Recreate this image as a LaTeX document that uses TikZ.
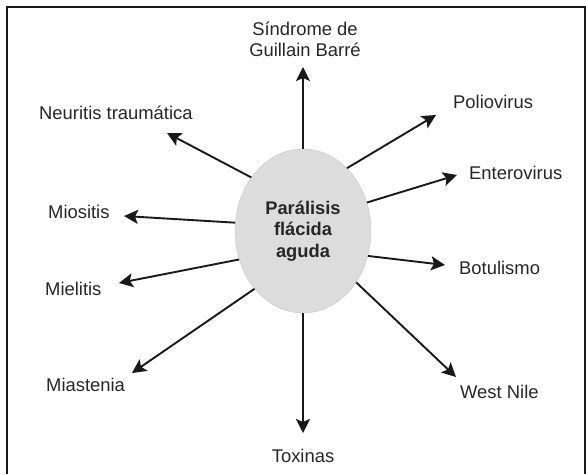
\documentclass[tikz,border=0pt]{standalone}
\usepackage{fontspec}
\setmainfont{Liberation Sans}
\usetikzlibrary{arrows.meta,shapes.geometric}
\definecolor{txtgray}{RGB}{38,38,38}
\definecolor{ovalfill}{RGB}{220,220,220}
\definecolor{ovalline}{RGB}{200,200,200}
\definecolor{arrblack}{RGB}{25,25,25}

\begin{document}
\begin{tikzpicture}[x=1pt, y=-1pt,
  oval/.style={ellipse, draw=ovalline, fill=ovalfill,
    minimum width=136pt, minimum height=164pt, inner sep=0pt,
    align=center, font=\fontsize{18.3}{21.5}\selectfont\bfseries, text=txtgray},
  lbl/.style={font=\fontsize{18.4}{21}\selectfont, text=txtgray, inner sep=0pt},
  arr/.style={-{Stealth[length=14pt, width=14pt, inset=3pt]}, line width=1.9pt, color=arrblack},
  boxline/.style={line width=1.2pt, color=arrblack}
]
  \useasboundingbox (0,0) rectangle (586,474);
  \draw[boxline] (7,474) -- (7,7) -- (585,7) -- (585,474);

  \node[oval] (pfa) at (303,231) {Parálisis\\flácida\\aguda};

  \node[lbl, align=center, anchor=base] (gbs) at (305,56) {Síndrome de\\Guillain Barré};
  \node[lbl, anchor=base west] (neu) at (39,119)  {Neuritis traumática};
  \node[lbl, anchor=base west] (mio) at (48,218)  {Miositis};
  \node[lbl, anchor=base west] (mie) at (45,295)  {Mielitis};
  \node[lbl, anchor=base west] (mia) at (46,391)  {Miastenia};
  \node[lbl, anchor=base]      (tox) at (303,462) {Toxinas};
  \node[lbl, anchor=base west] (wn)  at (460,398) {West Nile};
  \node[lbl, anchor=base west] (bot) at (459,274) {Botulismo};
  \node[lbl, anchor=base west] (ent) at (469,179) {Enterovirus};
  \node[lbl, anchor=base west] (pol) at (453,108) {Poliovirus};

  \coordinate (gbs-tip) at (303,67);
  \coordinate (neu-tip) at (167,133);
  \coordinate (mio-tip) at (124,216);
  \coordinate (mie-tip) at (119,283);
  \coordinate (mia-tip) at (132,373);
  \coordinate (tox-tip) at (303,433);
  \coordinate (wn-tip)  at (456,377);
  \coordinate (bot-tip) at (445,265);
  \coordinate (ent-tip) at (457,175);
  \coordinate (pol-tip) at (436,115);

  \draw[arr] (pfa.90)    -- (gbs-tip);
  \draw[arr] (pfa.134)   -- (neu-tip);
  \draw[arr] (pfa.173.5) -- (mio-tip);
  \draw[arr] (pfa.204)   -- (mie-tip);
  \draw[arr] (pfa.230.8) -- (mia-tip);
  \draw[arr] (pfa.270)   -- (tox-tip);
  \draw[arr] (pfa.316.6) -- (wn-tip);
  \draw[arr] (pfa.339.8) -- (bot-tip);
  \draw[arr] (pfa.24.4)  -- (ent-tip);
  \draw[arr] (pfa.55.9)  -- (pol-tip);
\end{tikzpicture}
\end{document}
